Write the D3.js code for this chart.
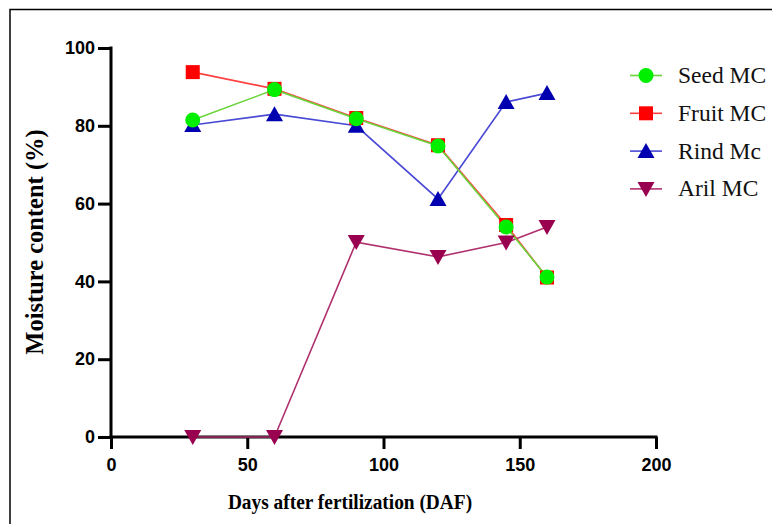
<!DOCTYPE html>
<html><head><meta charset="utf-8">
<script src="https://cdn.jsdelivr.net/npm/d3@7"></script>
<style>body{margin:0;background:#fff}svg{display:block}</style>
</head><body>
<svg id="c" width="772" height="524"></svg>
<script>
const days = [30, 60, 90, 120, 145, 160];
const seedMC = [81.5, 89.3, 81.8, 74.8, 54, 41.1];
const fruitMC = [93.8, 89.5, 82, 75, 54.5, 41];
const rindMC = [80.2, 83, 80, 61.2, 86.1, 88.4];
const arilMC = [0, 0, 50.1, 46.3, 50, 54];
const seriesNames = ["Seed MC", "Fruit MC", "Rind Mc", "Aril MC"];
const xTicks = [0, 50, 100, 150, 200];
const yTicks = [0, 20, 40, 60, 80, 100];

const svg = d3.select("#c");
// frame
svg.append("path").attr("d","M10,524 V9.5 H772").attr("fill","none").attr("stroke","#000").attr("stroke-width",1.5);

const x = d3.scaleLinear().domain([0,200]).range([111,656]);
const y = d3.scaleLinear().domain([0,100]).range([437,48]);

const xAxis = svg.append("g").attr("transform","translate(0,437)")
  .call(d3.axisBottom(x).tickValues(xTicks).tickSize(12).tickSizeOuter(0).tickPadding(9));
const yAxis = svg.append("g").attr("transform","translate(111,0)")
  .call(d3.axisLeft(y).tickValues(yTicks).tickSize(13).tickSizeOuter(0).tickPadding(3));
[xAxis,yAxis].forEach(a=>{
  a.select(".domain").attr("stroke","#000").attr("stroke-width",3);
  a.selectAll(".tick line").attr("stroke","#000").attr("stroke-width",3);
  a.selectAll(".tick text").attr("fill","#000").style("font-family","'Liberation Sans', Arial, sans-serif").style("font-weight","bold").style("font-size","18px");
});
xAxis.select(".domain").attr("d","M109.5,0H657.5");
yAxis.select(".domain").attr("d","M0,438.5V46.5");

svg.append("text").attr("transform","translate(350,509) scale(0.88,1)").attr("text-anchor","middle")
  .style("font-family","'Liberation Serif','Times New Roman',serif").style("font-weight","bold").style("font-size","22px")
  .text("Days after fertilization (DAF)");
svg.append("text").attr("transform","translate(43,242) rotate(-90)").attr("text-anchor","middle")
  .style("font-family","'Liberation Serif','Times New Roman',serif").style("font-weight","bold").style("font-size","24.5px")
  .text("Moisture content (%)");

const series = [
  {name:seriesNames[1], vals:fruitMC, color:"#ff0000", line:"#ff4040", shape:"square"},
  {name:seriesNames[2], vals:rindMC, color:"#0000b0", line:"#4a4ad6", shape:"tri"},
  {name:seriesNames[3], vals:arilMC, color:"#990050", line:"#b0306e", shape:"tridown"},
  {name:seriesNames[0], vals:seedMC, color:"#00ee00", line:"#6ad43a", shape:"circle"}
];
function drawMarker(g, shape, cx, cy, color){
  if(shape==="circle") g.append("circle").attr("cx",cx).attr("cy",cy).attr("r",7.5).attr("fill",color);
  else if(shape==="square") g.append("rect").attr("x",cx-7).attr("y",cy-7).attr("width",14).attr("height",14).attr("fill",color);
  else if(shape==="tri") g.append("path").attr("d",`M${cx},${cy-8}L${cx+8.5},${cy+7}L${cx-8.5},${cy+7}Z`).attr("fill",color);
  else g.append("path").attr("d",`M${cx},${cy+8}L${cx+8.5},${cy-7}L${cx-8.5},${cy-7}Z`).attr("fill",color);
}
const line = d3.line().x((d,i)=>x(days[i])).y(d=>y(d));
series.forEach(s=>{
  svg.append("path").datum(s.vals).attr("d",line).attr("fill","none").attr("stroke",s.line).attr("stroke-width",1.6);
});
series.forEach(s=>{
  const g = svg.append("g");
  s.vals.forEach((v,i)=>drawMarker(g,s.shape,x(days[i]),y(v),s.color));
});

// legend
const legOrder = [series[3],series[0],series[1],series[2]];
legOrder.forEach((s,i)=>{
  const ly = 75.5 + i*37.8;
  const g = svg.append("g");
  g.append("line").attr("x1",630).attr("x2",662).attr("y1",ly).attr("y2",ly).attr("stroke",s.line).attr("stroke-width",1.6);
  drawMarker(g,s.shape,646,ly,s.color);
  g.append("text").attr("x",678).attr("y",ly+7.5).style("font-family","'Liberation Serif','Times New Roman',serif").style("font-size","23.5px").attr("fill","#111").text(s.name);
});
</script>
</body></html>
